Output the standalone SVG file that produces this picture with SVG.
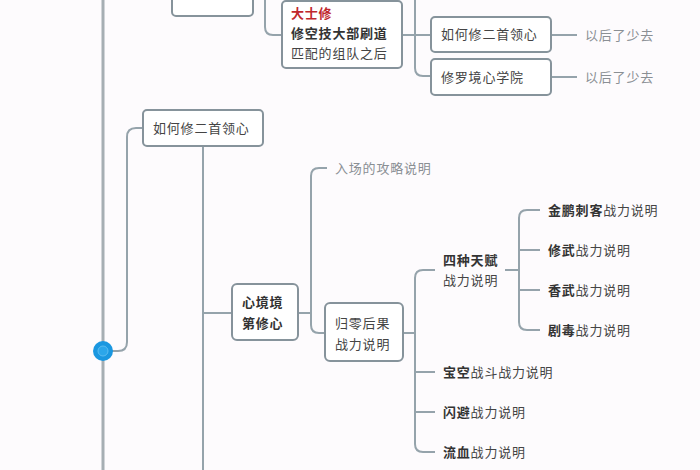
<svg xmlns="http://www.w3.org/2000/svg" width="700" height="470" viewBox="0 0 700 470">
<style>
text{font-family:"Noto Sans CJK SC","Noto Sans",sans-serif;font-size:13px;letter-spacing:0.8px;fill:#444}
.b{font-weight:bold;fill:#333}
.g{fill:#8a8f94}
.r{fill:#c0272d;font-weight:bold}
.box{fill:#fff;stroke:#86939b;stroke-width:2}
.ln{fill:none;stroke:#95a3ab;stroke-width:2}
.main{fill:none;stroke:#a6aeb3;stroke-width:3}
</style>
<rect width="700" height="470" fill="#fdfbfd"/>
<g id="connectors">
<line class="main" x1="103" y1="0" x2="103" y2="470"/>
<path class="ln" d="M143,128 H136 Q127,128 127,137 V342 Q127,351 118,351 H112"/>
<path class="ln" d="M265,0 V27 Q265,35 273,35 H282"/>
<path class="ln" d="M402,35 H431 M415,0 V68 Q415,76 423,76 H431"/>
<path class="ln" d="M551,35 H577 M551,77 H577"/>
<path class="ln" d="M203,146 V470 M203,313 H232"/>
<path class="ln" d="M298,313 H311 M327,168 H319 Q311,168 311,176 V325 Q311,333 319,333 H325"/>
<path class="ln" d="M403,333 H415 M435,270 H423 Q415,270 415,278 V444 Q415,452 423,452 H435 M415,372 H435 M415,412 H435"/>
<path class="ln" d="M505,270 H519 M540,210 H527 Q519,210 519,218 V322 Q519,330 527,330 H540 M519,250 H540 M519,290 H540"/>
</g>
<g id="hub"><circle cx="103" cy="351" r="10" fill="#1a97e0"/><circle cx="103" cy="351" r="5" fill="#2ba6ea" stroke="#5bbcf0" stroke-width="1"/></g>
<g id="n-topleft"><rect class="box" x="172" y="-6" width="81" height="22" rx="4"/></g>
<g id="n-top"><rect class="box" x="282" y="1" width="120" height="67" rx="4"/>
<text class="r" x="291" y="18">大士修</text>
<text class="b" x="291" y="38">修空技大部刷道</text>
<text x="291" y="58">匹配的组队之后</text></g>
<g id="n-r1"><rect class="box" x="431" y="17" width="120" height="35" rx="4"/><text x="441" y="39">如何修二首领心</text></g>
<g id="n-r2"><rect class="box" x="431" y="59" width="120" height="36" rx="4"/><text x="441" y="82">修罗境心学院</text></g>
<g id="t-r1"><text class="g" x="585" y="40">以后了少去</text></g>
<g id="t-r2"><text class="g" x="585" y="82">以后了少去</text></g>
<g id="n-mid"><rect class="box" x="143" y="110" width="120" height="36" rx="4"/><text x="153" y="133">如何修二首领心</text></g>
<g id="n-heart"><rect class="box" x="232" y="284" width="66" height="56" rx="5"/>
<text class="b" x="242" y="307">心境境</text><text class="b" x="242" y="328">第修心</text></g>
<g id="t-entry"><text class="g" x="335" y="173">入场的攻略说明</text></g>
<g id="n-zero"><rect class="box" x="325" y="303" width="78" height="58" rx="5"/>
<text x="335" y="328">归零后果</text><text x="335" y="349">战力说明</text></g>
<g id="t-four"><text class="b" x="443" y="265">四种天赋</text><text x="443" y="285">战力说明</text></g>
<g id="t-a"><text x="548" y="215"><tspan class="b">金鹏刺客</tspan>战力说明</text></g>
<g id="t-b"><text x="548" y="255"><tspan class="b">修武</tspan>战力说明</text></g>
<g id="t-c"><text x="548" y="295"><tspan class="b">香武</tspan>战力说明</text></g>
<g id="t-d"><text x="548" y="335"><tspan class="b">剧毒</tspan>战力说明</text></g>
<g id="t-e"><text x="443" y="377"><tspan class="b">宝空</tspan>战斗战力说明</text></g>
<g id="t-f"><text x="443" y="417"><tspan class="b">闪避</tspan>战力说明</text></g>
<g id="t-g"><text x="443" y="457"><tspan class="b">流血</tspan>战力说明</text></g>
</svg>
